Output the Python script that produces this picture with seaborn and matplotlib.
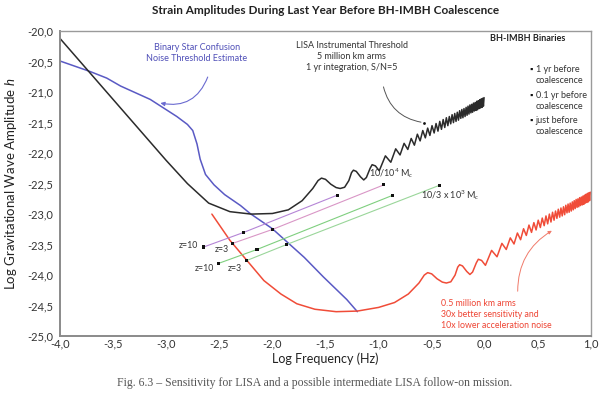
import matplotlib
matplotlib.use('Agg')
import matplotlib.pyplot as plt
import matplotlib.ticker as mticker
import pandas as pd
import seaborn as sns

# LISA instrumental threshold (black)
lisa_x = [-4.0, -3.5, -3.0, -2.8, -2.6, -2.4, -2.2, -2.0, -1.85, -1.72, -1.62, -1.57,
          -1.538, -1.50, -1.45, -1.40, -1.362, -1.32, -1.28, -1.255, -1.237, -1.21, -1.17,
          -1.14, -1.115, -1.08, -1.061, -1.03, -0.994, -0.936, -0.885, -0.839, -0.798,
          -0.760, -0.725, -0.693, -0.663, -0.635, -0.609, -0.584, -0.560, -0.538, -0.517,
          -0.497, -0.477, -0.459, -0.441, -0.424, -0.408, -0.392, -0.377, -0.362, -0.348,
          -0.334, -0.321, -0.308, -0.295, -0.283, -0.271, -0.259, -0.248, -0.237, -0.226,
          -0.216, -0.206, -0.196, -0.186, -0.176, -0.167, -0.158, -0.149, -0.140, -0.131,
          -0.123, -0.115, -0.107, -0.099, -0.091, -0.083, -0.076, -0.068, -0.061, -0.054,
          -0.047, -0.040, -0.033, -0.026, -0.019, -0.013, -0.007]
lisa_y = [-20.12, -21.12, -22.12, -22.50, -22.82, -22.96, -23.00, -22.99, -22.93, -22.78, -22.58, -22.45,
          -22.41, -22.43, -22.51, -22.565, -22.58, -22.56, -22.45, -22.32, -22.28, -22.30, -22.39,
          -22.44, -22.40, -22.25, -22.19, -22.21, -22.29, -22.045, -22.15, -21.93, -22.03,
          -21.84, -21.94, -21.76, -21.87, -21.69, -21.80, -21.63, -21.75, -21.59, -21.71,
          -21.55, -21.67, -21.515, -21.64, -21.48, -21.61, -21.45, -21.58, -21.42, -21.55,
          -21.40, -21.52, -21.37, -21.50, -21.35, -21.48, -21.33, -21.46, -21.305, -21.43,
          -21.285, -21.42, -21.27, -21.40, -21.25, -21.38, -21.23, -21.36, -21.21, -21.34,
          -21.20, -21.33, -21.18, -21.31, -21.17, -21.30, -21.15, -21.29, -21.14, -21.27,
          -21.125, -21.26, -21.11, -21.25, -21.10, -21.23, -21.09]

# follow-on mission (red)
follow_x = [-2.57, -2.4, -2.24, -2.08, -1.92, -1.77, -1.6, -1.4, -1.2, -1.0, -0.85, -0.72, -0.62, -0.57,
            -0.538, -0.50, -0.45, -0.40, -0.362, -0.32, -0.28, -0.255, -0.237, -0.21, -0.17,
            -0.14, -0.115, -0.08, -0.061, -0.03, 0.006, 0.064, 0.115, 0.161, 0.202,
            0.240, 0.275, 0.307, 0.337, 0.365, 0.391, 0.416, 0.440, 0.462, 0.483,
            0.503, 0.523, 0.541, 0.559, 0.576, 0.592, 0.608, 0.623, 0.638, 0.652,
            0.666, 0.679, 0.692, 0.705, 0.717, 0.729, 0.741, 0.752, 0.763, 0.774,
            0.784, 0.794, 0.804, 0.814, 0.824, 0.833, 0.842, 0.851, 0.860, 0.869,
            0.877, 0.885, 0.893, 0.901, 0.909, 0.917, 0.924, 0.932, 0.939, 0.946,
            0.953, 0.960, 0.967, 0.974, 0.981, 0.987, 0.993]
follow_y = [-23.00, -23.43, -23.76, -24.09, -24.31, -24.47, -24.56, -24.60, -24.59, -24.53, -24.45, -24.31, -24.13, -24.00,
            -23.96, -23.98, -24.06, -24.115, -24.13, -24.11, -24.00, -23.87, -23.83, -23.85, -23.94,
            -23.99, -23.95, -23.80, -23.74, -23.76, -23.84, -23.595, -23.70, -23.48, -23.58,
            -23.39, -23.49, -23.31, -23.42, -23.24, -23.35, -23.18, -23.30, -23.14, -23.26,
            -23.10, -23.22, -23.065, -23.19, -23.03, -23.16, -23.00, -23.13, -22.97, -23.10,
            -22.95, -23.07, -22.92, -23.05, -22.90, -23.03, -22.88, -23.01, -22.855, -22.98,
            -22.835, -22.97, -22.82, -22.95, -22.80, -22.93, -22.78, -22.91, -22.76, -22.89,
            -22.75, -22.88, -22.73, -22.86, -22.72, -22.85, -22.705, -22.84, -22.69, -22.82,
            -22.675, -22.81, -22.66, -22.80, -22.65, -22.78, -22.64]

# binary star confusion noise (blue)
conf_x = [-4.0, -3.72, -3.56, -3.43, -3.15, -2.9, -2.8, -2.75, -2.71, -2.68, -2.63, -2.55,
          -2.45, -2.3, -2.21, -2.0, -1.86, -1.7, -1.52, -1.3, -1.2]
conf_y = [-20.49, -20.66, -20.77, -20.90, -21.12, -21.40, -21.53, -21.63, -21.85, -22.10, -22.35, -22.52,
          -22.68, -22.86, -22.99, -23.24, -23.46, -23.71, -24.03, -24.40, -24.60]

# BH-IMBH tracks: 1 yr, 0.1 yr, just before coalescence
tracks = ['1e4 z=10', '1e4 z=3', '3e3 z=10', '3e3 z=3']
track_x = [[-2.648, -2.27, -1.39], [-2.374, -1.997, -0.95],
           [-2.51, -2.145, -0.865], [-2.24, -1.868, -0.43]]
track_y = [[-23.54, -23.30, -22.69], [-23.48, -23.25, -22.52],
           [-23.81, -23.58, -22.69], [-23.76, -23.50, -22.53]]
track_colors = ['#b585d6', '#d996c6', '#7fcf7f', '#9ad69a']

x_ticks = [-4.0, -3.5, -3.0, -2.5, -2.0, -1.5, -1.0, -0.5, 0.0, 0.5, 1.0]
y_ticks = [-25.0, -24.5, -24.0, -23.5, -23.0, -22.5, -22.0, -21.5, -21.0, -20.5, -20.0]

sns.set_style('white')
plt.rcParams['font.family'] = ['Lato', 'DejaVu Sans']
plt.rcParams['mathtext.fontset'] = 'custom'
plt.rcParams['mathtext.rm'] = 'Lato'
plt.rcParams['mathtext.it'] = 'Lato:italic'

fig = plt.figure(figsize=(6, 3.94), dpi=100)
ax = fig.add_axes([0.1, 0.147, 0.885, 0.774])

sns.lineplot(x=conf_x, y=conf_y, sort=False, color='#5a5ac4', lw=1.1, ax=ax)
sns.lineplot(x=lisa_x, y=lisa_y, sort=False, color='#2b2b2b', lw=1.1, ax=ax)
sns.lineplot(x=follow_x, y=follow_y, sort=False, color='#f04c38', lw=1.1, ax=ax)

rows = []
for name, xs, ys in zip(tracks, track_x, track_y):
    for xv, yv in zip(xs, ys):
        rows.append({'track': name, 'x': xv, 'y': yv})
tdf = pd.DataFrame(rows)
sns.lineplot(data=tdf, x='x', y='y', hue='track', palette=track_colors, sort=False,
             estimator=None, lw=0.8, legend=False, ax=ax)
sns.scatterplot(data=tdf, x='x', y='y', color='#111111', marker='s', s=5,
                edgecolor='none', linewidth=0, zorder=5, ax=ax)

ax.set_xlim(-4, 1)
ax.set_ylim(-25, -20)
ax.set_xticks(x_ticks)
ax.set_yticks(y_ticks)
fmt = mticker.FuncFormatter(lambda v, p: f'{v:.1f}'.replace('.', ','))
ax.xaxis.set_major_formatter(fmt)
ax.yaxis.set_major_formatter(fmt)
ax.tick_params(axis='both', labelsize=8, colors='#333333', pad=2)
ax.tick_params(axis='y', direction='out', length=3, width=0.8, color='#777777')
ax.tick_params(axis='x', direction='in', length=3, width=0.6, color='#cccccc')
for side in ['left', 'bottom']:
    ax.spines[side].set_color('#8a8a8a')
    ax.spines[side].set_linewidth(1.4)
for side in ['top', 'right']:
    ax.spines[side].set_color('#9a9a9a')
    ax.spines[side].set_linewidth(1.0)

ax.set_xlabel('Log Frequency (Hz)', fontsize=9, color='#222222', labelpad=2)
ax.set_ylabel('Log Gravitational Wave Amplitude $\\mathit{h}$', fontsize=9.5, color='#222222', labelpad=6)

fig.text(0.542, 0.974, 'Strain Amplitudes During Last Year Before BH-IMBH Coalescence',
         ha='center', va='center', fontsize=8.5, fontweight='bold', color='#222222')
fig.text(0.525, 0.028, 'Fig. 6.3 \u2013 Sensitivity for LISA and a possible intermediate LISA follow-on mission.',
         ha='center', va='center', fontsize=8.5, color='#555555', family='Liberation Serif')

# annotations
ax.text(-2.71, -20.36, 'Binary Star Confusion\nNoise Threshold Estimate', ha='center', va='center',
        fontsize=6.5, color='#5050b8', linespacing=1.3)
ax.annotate('', xy=(-3.08, -21.17), xytext=(-2.6, -20.71),
            arrowprops=dict(arrowstyle='-|>', color='#6a6ad0', lw=0.8, mutation_scale=6,
                            connectionstyle='arc3,rad=-0.45'))

ax.text(-1.255, -20.42, 'LISA Instrumental Threshold\n5 million km arms\n1 yr integration, S/N=5',
        ha='center', va='center', fontsize=6.5, color='#333333', linespacing=1.3)
lisa_ptr = (-0.575, -21.50)
ax.annotate('', xy=lisa_ptr, xytext=(-0.96, -20.87),
            arrowprops=dict(arrowstyle='-', color='#555555', lw=0.7,
                            connectionstyle='arc3,rad=0.35'))
ax.plot(*lisa_ptr, marker='o', ms=2, color='#111111', mec='none')

ax.text(-0.415, -24.64, '0.5 million km arms\n30x better sensitivity and\n10x lower acceleration noise',
        ha='left', va='center', fontsize=6.3, color='#ee4433', linespacing=1.3)
ax.annotate('', xy=(0.654, -23.25), xytext=(0.31, -24.31),
            arrowprops=dict(arrowstyle='-|>', color='#f07a6a', lw=0.7, mutation_scale=5,
                            connectionstyle='arc3,rad=-0.3'))

ax.text(-1.09, -22.33, '10/10$^{4}$ M$_{c}$', ha='left', va='center', fontsize=6.5, color='#333333')
ax.text(-0.60, -22.69, '10/3 x 10$^{3}$ M$_{c}$', ha='left', va='center', fontsize=6.5, color='#333333')
ax.text(-2.70, -23.52, 'z=10', ha='right', va='center', fontsize=6.3, color='#333333')
ax.text(-2.48, -23.58, 'z=3', ha='center', va='center', fontsize=6.3, color='#333333')
ax.text(-2.64, -23.90, 'z=10', ha='center', va='center', fontsize=6.3, color='#333333')
ax.text(-2.35, -23.90, 'z=3', ha='center', va='center', fontsize=6.3, color='#333333')

ax.text(0.40, -20.12, 'BH-IMBH Binaries', ha='center', va='center', fontsize=6.5,
        fontweight='bold', color='#222222')
legend_items = ['1 yr before\ncoalescence', '0.1 yr before\ncoalescence', 'just before\ncoalescence']
legend_top = [-20.63, -21.05, -21.47]
for label, yv in zip(legend_items, legend_top):
    ax.text(0.44, yv, '\u25aa', ha='center', va='center', fontsize=6, color='#111111')
    ax.text(0.48, yv - 0.09, label, ha='left', va='center', fontsize=6.5, color='#333333',
            linespacing=1.25)

fig.savefig('out.png', dpi=100)
